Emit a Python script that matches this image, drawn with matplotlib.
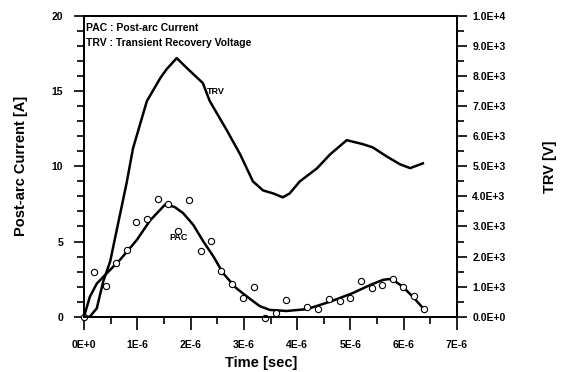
import matplotlib
matplotlib.use('Agg')
import matplotlib.pyplot as plt
import matplotlib.ticker as ticker

plt.rcParams['font.family'] = ['Liberation Sans', 'DejaVu Sans']
plt.rcParams['font.weight'] = 'bold'

# measured post-arc current, time in microseconds
pac_t = [0.0, 0.19, 0.41, 0.60, 0.80, 0.98, 1.18, 1.38, 1.58, 1.77, 1.97, 2.19, 2.38,
         2.58, 2.77, 2.99, 3.19, 3.39, 3.60, 3.80, 4.19, 4.40, 4.60, 4.80, 5.00, 5.20,
         5.40, 5.59, 5.79, 5.99, 6.19, 6.38]
pac_i = [0.0, 3.0, 2.05, 3.56, 4.45, 6.33, 6.49, 7.85, 7.51, 5.67, 7.78, 4.4, 5.05,
         3.07, 2.18, 1.25, 1.96, -0.09, 0.27, 1.11, 0.67, 0.49, 1.18, 1.07, 1.23, 2.35,
         1.91, 2.13, 2.51, 1.98, 1.38, 0.53]

# fitted PAC curve
fit_t = [0.0, 0.11, 0.24, 0.43, 0.68, 0.99, 1.24, 1.52, 1.70, 1.86, 2.05, 2.24, 2.43,
         2.61, 2.86, 3.11, 3.30, 3.49, 3.80, 4.18, 4.62, 5.05, 5.37, 5.61, 5.72, 5.80,
         5.98, 6.17, 6.36]
fit_i = [0.0, 1.33, 2.2, 2.9, 3.8, 5.1, 6.4, 7.45, 7.3, 6.89, 6.11, 5.0, 4.0,
         2.89, 1.89, 1.2, 0.7, 0.45, 0.38, 0.5, 1.0, 1.58, 2.11, 2.45, 2.5, 2.45,
         2.0, 1.33, 0.58]

# transient recovery voltage
trv_t = [0.0, 0.11, 0.24, 0.36, 0.49, 0.80, 0.92, 1.18, 1.43, 1.55, 1.74, 1.93, 2.05,
         2.23, 2.36, 2.68, 2.93, 3.17, 3.36, 3.55, 3.73, 3.86, 4.05, 4.37, 4.62, 4.93,
         5.23, 5.42, 5.68, 5.93, 6.12, 6.36]
trv_v = [0, 0, 280, 1170, 1830, 4450, 5600, 7170, 7930, 8230, 8600, 8270, 8070,
         7770, 7170, 6200, 5400, 4500, 4200, 4100, 3970, 4100, 4500, 4930, 5400, 5870,
         5740, 5630, 5330, 5070, 4940, 5100]

fig = plt.figure(figsize=(5.67, 3.72), dpi=100)
ax = fig.add_axes([84 / 567, 1 - 316.7 / 372, 373 / 567, 300.7 / 372])
ax2 = ax.twinx()

ax2.plot(trv_t, trv_v, color='black', lw=1.8)
ax.plot(fit_t, fit_i, color='black', lw=1.8)
ax.plot(pac_t, pac_i, 'o', mfc='white', mec='black', ms=4.5, mew=0.8, clip_on=False)

ax.set_xlim(0, 7)
ax.set_ylim(0, 20)
ax2.set_ylim(0, 10000)

ax.xaxis.set_major_locator(ticker.MultipleLocator(1))
ax.xaxis.set_minor_locator(ticker.MultipleLocator(0.5))
ax.xaxis.set_major_formatter(ticker.FuncFormatter(
    lambda v, p: '0E+0' if v == 0 else '%dE-6' % round(v)))
ax.yaxis.set_major_locator(ticker.MultipleLocator(5))
ax.yaxis.set_minor_locator(ticker.MultipleLocator(1))
ax2.yaxis.set_major_locator(ticker.MultipleLocator(1000))
ax2.yaxis.set_minor_locator(ticker.MultipleLocator(500))


def volt_fmt(v, p):
    if v == 0:
        return '0.0E+0'
    e = 4 if v >= 10000 else 3
    return '%.1fE+%d' % (v / 10 ** e, e)


ax2.yaxis.set_major_formatter(ticker.FuncFormatter(volt_fmt))

ax.tick_params(axis='x', which='major', length=9, width=1.2, pad=8, labelsize=7.5)
ax.tick_params(axis='x', which='minor', length=5, width=1.2)
ax.tick_params(axis='y', which='major', length=7, width=1.2, pad=8, labelsize=7.5)
ax.tick_params(axis='y', which='minor', length=5, width=1.2)
ax2.tick_params(axis='y', which='major', length=7, width=1.2, pad=4, labelsize=7.5)
ax2.tick_params(axis='y', which='minor', length=5, width=1.2)
for a in (ax, ax2):
    for s in a.spines.values():
        s.set_linewidth(1.3)

ax.set_xlabel('Time [sec]', fontsize=10.5, fontweight='bold')
ax.xaxis.set_label_coords(0.475, -0.13)
ax.set_ylabel('Post-arc Current [A]', fontsize=10.5, fontweight='bold')
ax.yaxis.set_label_coords(-0.15, 0.5)
ax2.set_ylabel('TRV [V]', fontsize=10.5, fontweight='bold', rotation=90)
ax2.yaxis.set_label_coords(1.23, 0.5)

ax.text(0.005, 0.977, 'PAC : Post-arc Current', transform=ax.transAxes,
        fontsize=7.5, fontweight='bold', va='top')
ax.text(0.005, 0.927, 'TRV : Transient Recovery Voltage', transform=ax.transAxes,
        fontsize=7.5, fontweight='bold', va='top')
ax2.text(2.3, 7500, 'TRV', fontsize=6.5, fontweight='bold', va='center')
ax.text(1.6, 5.3, 'PAC', fontsize=6.5, fontweight='bold', va='center')

fig.savefig('out.png', dpi=100)
